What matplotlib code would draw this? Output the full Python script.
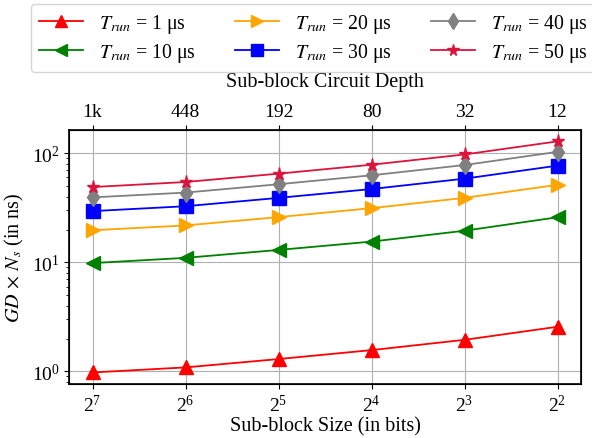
import matplotlib
matplotlib.use("Agg")
import matplotlib.pyplot as plt
from matplotlib.ticker import FixedLocator, NullFormatter

plt.rcParams['font.family'] = ['Liberation Serif', 'DejaVu Serif']
plt.rcParams['mathtext.fontset'] = 'stix'

block_sizes = [128, 64, 32, 16, 8, 4]
depth_labels = ['1k', '448', '192', '80', '32', '12']
t1 = [0.98, 1.09, 1.30, 1.57, 1.95, 2.57]
t10 = [9.85, 11.0, 13.0, 15.5, 19.5, 25.9]
t20 = [19.7, 21.8, 26.0, 31.4, 39.0, 51.4]
t30 = [29.5, 32.7, 39.0, 47.0, 58.5, 77.0]
t40 = [39.4, 43.6, 52.0, 62.8, 78.0, 103.0]
t50 = [49.0, 54.5, 65.0, 78.5, 97.5, 128.5]

series = [
    (t1, r'$T_{run}$ = 1 μs', 'red', '^'),
    (t10, r'$T_{run}$ = 10 μs', 'green', '<'),
    (t20, r'$T_{run}$ = 20 μs', 'orange', '>'),
    (t30, r'$T_{run}$ = 30 μs', 'blue', 's'),
    (t40, r'$T_{run}$ = 40 μs', 'gray', 'd'),
    (t50, r'$T_{run}$ = 50 μs', 'crimson', '*'),
]

fig = plt.figure(figsize=(5.92, 4.39), dpi=100)
ax = fig.add_axes([0.117, 0.123, 0.864, 0.579])
for vals, lab, c, m in series:
    ax.plot(block_sizes, vals, color=c, marker=m, markersize=9.5, lw=1.3, label=lab)
ax.set_xscale('log', base=2)
ax.set_yscale('log')
ax.invert_xaxis()
ax.grid(True, which='major', color='#b0b0b0', lw=0.8)
ax.tick_params(labelsize=14)
ax.set_xlabel('Sub-block Size (in bits)', fontsize=14.5, labelpad=1)
ax.set_ylabel(r'$GD\,\times\,N_s$ (in ns)', fontsize=14.5)
for s in ax.spines.values():
    s.set_linewidth(1.2)

ax2 = ax.twiny()
ax2.set_xscale('log', base=2)
ax2.set_xlim(ax.get_xlim())
ax2.xaxis.set_major_locator(FixedLocator(block_sizes))
ax2.xaxis.set_minor_formatter(NullFormatter())
ax2.set_xticklabels(depth_labels)
ax2.tick_params(labelsize=14)
ax2.set_xlabel('Sub-block Circuit Depth', fontsize=14.5, labelpad=12)

handles, labels = ax.get_legend_handles_labels()
fig.legend(handles, labels, ncol=3, loc='upper left', bbox_to_anchor=(31/592, 1-5/439),
           fontsize=14.3, columnspacing=2.0, handlelength=2.2, handletextpad=0.8,
           labelspacing=0.31, borderaxespad=0, borderpad=0.4, markerscale=0.9,
           frameon=True)

fig.savefig('out.png', dpi=100)
